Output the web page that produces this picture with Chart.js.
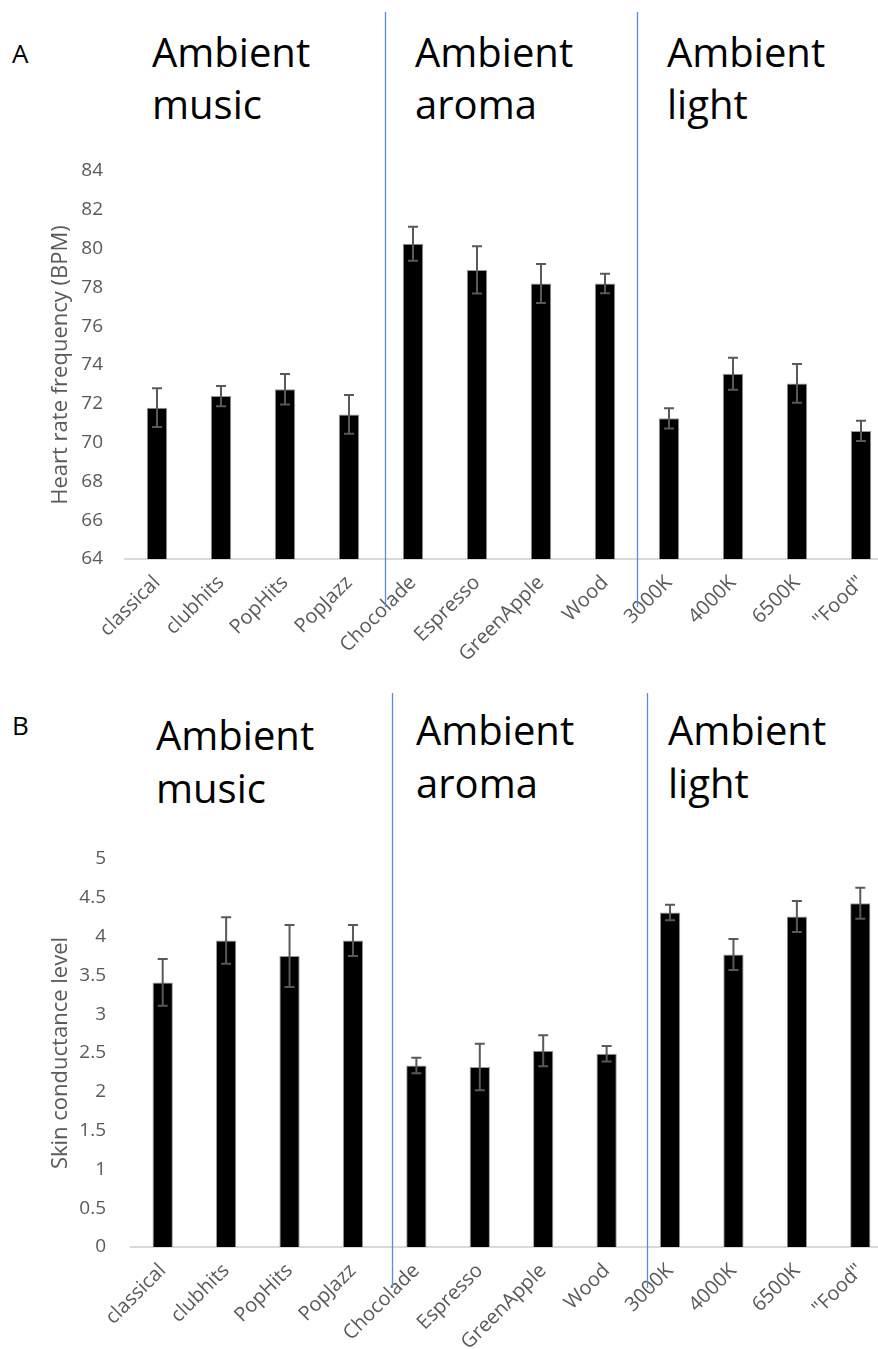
<!DOCTYPE html>
<html>
<head>
<meta charset="utf-8">
<script src="https://cdn.jsdelivr.net/npm/chart.js@4.4.1/dist/chart.umd.min.js"></script>
<style>
    body {
        margin: 0;
        width: 878px;
        height: 1349px;
        overflow: hidden;
        position: relative;
        background: #fff;
        font-family: 'Open Sans', sans-serif;
    }
    canvas {
        position: absolute;
        left: 0;
    }
    .panel-label {
        position: absolute;
        left: 12px;
        font-size: 26px;
        line-height: 26px;
        color: #000;
    }
    .heading {
        position: absolute;
        font-size: 40px;
        line-height: 52px;
        color: #000;
    }
</style>
</head>
<body>
<div class="panel-label" style="top: 40px">A</div>
<div class="heading" style="left: 152px; top: 26px">Ambient<br>music</div>
<div class="heading" style="left: 415px; top: 26px">Ambient<br>aroma</div>
<div class="heading" style="left: 667px; top: 26px">Ambient<br>light</div>
<canvas id="heartChart" width="900" height="690" style="top: 0"></canvas>

<div class="panel-label" style="top: 712px">B</div>
<div class="heading" style="left: 156px; top: 708px; line-height: 53px">Ambient<br>music</div>
<div class="heading" style="left: 416px; top: 703px; line-height: 53px">Ambient<br>aroma</div>
<div class="heading" style="left: 668px; top: 703px; line-height: 53px">Ambient<br>light</div>
<canvas id="skinChart" width="900" height="659" style="top: 690px"></canvas>

<script>
const categories = ['classical', 'clubhits', 'PopHits', 'PopJazz', 'Chocolade', 'Espresso',
    'GreenApple', 'Wood', '3000K', '4000K', '6500K', '"Food"']

const heartRate = [71.8, 72.4, 72.75, 71.45, 80.25, 78.9, 78.2, 78.2, 71.25, 73.55, 73.05, 70.6]
const heartRateErr = [1.0, 0.52, 0.78, 1.0, 0.88, 1.22, 1.0, 0.5, 0.52, 0.82, 1.0, 0.52]
const heartTicks = { min: 64, max: 84, step: 2 }

const skinLevel = [3.41, 3.95, 3.75, 3.95, 2.34, 2.32, 2.53, 2.49, 4.31, 3.77, 4.26, 4.43]
const skinLevelErr = [0.3, 0.3, 0.4, 0.2, 0.1, 0.3, 0.2, 0.1, 0.1, 0.2, 0.2, 0.2]
const skinTicks = { min: 0, max: 5, step: 0.5 }

// group separators, in category units (between PopJazz/Chocolade and Wood/3000K)
const heartDividers = [3.57, 7.5]
const skinDividers = [3.61, 7.63]

Chart.defaults.font.family = "'Open Sans', sans-serif"
Chart.defaults.font.size = 19
Chart.defaults.color = '#595959'

/**
 * @name errorBarsPlugin
 * @description Draws symmetric error bars over each bar.
 */
const errorBarsPlugin = {
    id: 'errorBars',
    afterDatasetsDraw(chart, args, opts) {
        const ctx = chart.ctx
        const meta = chart.getDatasetMeta(0)
        const yScale = chart.scales.y
        const values = chart.data.datasets[0].data
        ctx.save()
        ctx.strokeStyle = '#595959'
        ctx.lineWidth = 2
        meta.data.forEach(function (bar, i) {
            const top = yScale.getPixelForValue(values[i] + opts.errors[i])
            const bottom = yScale.getPixelForValue(values[i] - opts.errors[i])
            ctx.beginPath()
            ctx.moveTo(bar.x, top)
            ctx.lineTo(bar.x, bottom)
            ctx.moveTo(bar.x - 5, top)
            ctx.lineTo(bar.x + 5, top)
            ctx.moveTo(bar.x - 5, bottom)
            ctx.lineTo(bar.x + 5, bottom)
            ctx.stroke()
        })
        ctx.restore()
    },
}

/**
 * @name dividersPlugin
 * @description Draws the thin blue lines that split the three groups.
 */
const dividersPlugin = {
    id: 'dividers',
    afterDraw(chart, args, opts) {
        const ctx = chart.ctx
        const xScale = chart.scales.x
        ctx.save()
        ctx.strokeStyle = '#5b8ad6'
        ctx.lineWidth = 1.3
        opts.positions.forEach(function (pos) {
            const x = Math.round(xScale.getPixelForValue(pos)) + 0.5
            ctx.beginPath()
            ctx.moveTo(x, opts.top)
            ctx.lineTo(x, opts.bottom)
            ctx.stroke()
        })
        ctx.restore()
    },
}

/**
 * @name renderPanel
 * @description Renders one bar panel with error bars to a canvas.
 */
function renderPanel(id, values, errors, ticks, title, dividers, box) {
    const ctx = document.getElementById(id).getContext('2d')
    return new Chart(ctx, {
        type: 'bar',
        data: {
            labels: categories,
            datasets: [
                {
                    data: values,
                    backgroundColor: '#000',
                    borderColor: '#9a9a9a',
                    borderWidth: 1,
                    categoryPercentage: 1,
                    barPercentage: 0.32,
                },
            ],
        },
        plugins: [errorBarsPlugin, dividersPlugin],
        options: {
            responsive: false,
            animation: false,
            layout: {
                padding: { top: box.top, right: box.right, left: 0, bottom: 0 },
            },
            plugins: {
                legend: { display: false },
                tooltip: { enabled: false },
                errorBars: { errors: errors },
                dividers: { positions: dividers, top: box.lineTop, bottom: box.lineBottom },
            },
            scales: {
                x: {
                    grid: { display: false },
                    border: { display: true, color: '#d9d9d9', width: 2 },
                    ticks: {
                        minRotation: 45,
                        maxRotation: 45,
                        padding: 4,
                        autoSkip: false,
                        font: { size: 20 },
                    },
                    afterFit(scale) {
                        scale.height = box.xHeight
                    },
                },
                y: {
                    min: ticks.min,
                    max: ticks.max,
                    grid: { display: false },
                    border: { display: false },
                    ticks: {
                        stepSize: ticks.step,
                        padding: box.tickPad,
                        callback: function (value) {
                            return String(value)
                        },
                    },
                    title: {
                        display: true,
                        text: title,
                        font: { size: 22 },
                        padding: { top: 48, bottom: 0 },
                    },
                    afterFit(scale) {
                        scale.width = box.yWidth
                    },
                },
            },
        },
    })
}

renderPanel('heartChart', heartRate, heartRateErr, heartTicks, 'Heart rate frequency (BPM)', heartDividers, {
    top: 171, right: 7, xHeight: 131, yWidth: 125, tickPad: 14, lineTop: 12, lineBottom: 607,
})

renderPanel('skinChart', skinLevel, skinLevelErr, skinTicks, 'Skin conductance level', skinDividers, {
    top: 169, right: 8, xHeight: 102, yWidth: 131, tickPad: 17, lineTop: 3, lineBottom: 598,
})
</script>
</body>
</html>
